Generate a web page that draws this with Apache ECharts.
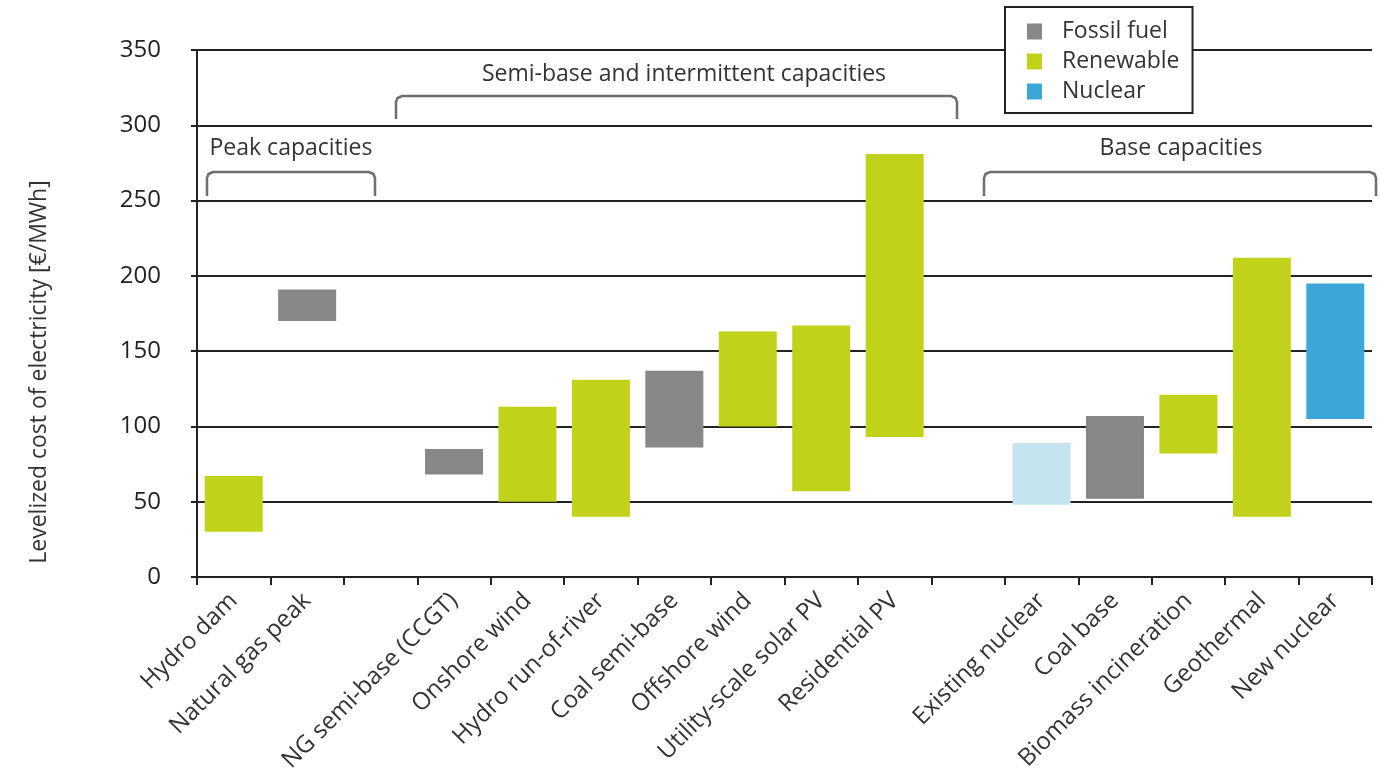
<!DOCTYPE html>
<html>
<head>
<meta charset="utf-8">
<script src="https://cdn.jsdelivr.net/npm/echarts@6/dist/echarts.min.js"></script>
<style>html,body{margin:0;padding:0;background:#fff}#c{width:1381px;height:777px}</style>
</head>
<body>
<div id="c"></div>
<script>
const categories = ['Hydro dam','Natural gas peak','','NG semi-base (CCGT)','Onshore wind','Hydro run-of-river','Coal semi-base','Offshore wind','Utility-scale solar PV','Residential PV','','Existing nuclear','Coal base','Biomass incineration','Geothermal','New nuclear'];
const lowValues  = [30, 170, null, 68, 50, 40, 86, 100, 57, 93, null, 48, 52, 82, 40, 105];
const highValues = [67, 191, null, 85, 113, 131, 137, 163, 167, 281, null, 89, 107, 121, 212, 195];
const sourceType = ['Renewable','Fossil fuel','','Fossil fuel','Renewable','Renewable','Fossil fuel','Renewable','Renewable','Renewable','','Nuclear','Fossil fuel','Renewable','Renewable','Nuclear'];
const existingFlag = [0,0,0,0,0,0,0,0,0,0,0,1,0,0,0,0];
const legendNames = ['Fossil fuel','Renewable','Nuclear'];
const yTicks = {min: 0, max: 350, interval: 50};

const colors = {'Fossil fuel':'#878787','Renewable':'#c0d31a','Nuclear':'#3ba7d8'};
const existingColor = '#c6e4f0';
const FONT = 'Open Sans';

const baseSeries = {
  name: 'base', type: 'bar', stack: 'r', barWidth: 58, silent: true,
  itemStyle: {color: 'transparent'},
  data: lowValues.map(v => v === null ? '-' : v)
};
const rangeSeries = legendNames.map(n => ({
  name: n, type: 'bar', stack: 'r', barWidth: 58,
  itemStyle: {color: colors[n]},
  data: categories.map((c, i) => {
    if (sourceType[i] !== n) return '-';
    const v = highValues[i] - lowValues[i];
    return existingFlag[i] ? {value: v, itemStyle: {color: existingColor}} : v;
  })
}));

const chart = echarts.init(document.getElementById('c'), null, {renderer: 'canvas'});

function bracket(x1, x2, yt, yb) {
  const r = 6;
  return {
    type: 'polyline', z: 10,
    shape: {points: [[x1, yb], [x1, yt + r], [x1 + 1.5, yt + 2], [x1 + r, yt], [x2 - r, yt], [x2 - 1.5, yt + 2], [x2, yt + r], [x2, yb]]},
    style: {stroke: '#6e6e6e', lineWidth: 2.5, fill: null}
  };
}
function label(text, x, y) {
  return {type: 'text', z: 10, x: x, y: y,
    style: {text: text, fill: '#333', font: '23px "' + FONT + '"', align: 'center', verticalAlign: 'middle'}};
}

chart.setOption({
  animation: false,
  backgroundColor: '#fff',
  textStyle: {fontFamily: FONT},
  grid: {left: 197, right: 9, top: 50, bottom: 200, containLabel: false, outerBoundsMode: 'none'},
  legend: {
    data: legendNames, orient: 'vertical', left: 1005, top: 7,
    padding: [13, 13, 10, 22], itemGap: 7, itemWidth: 15, itemHeight: 16,
    borderColor: '#222', borderWidth: 2, backgroundColor: '#fff', z: 20,
    icon: 'rect',
    textStyle: {fontSize: 23, color: '#333', fontFamily: FONT, padding: [0, 0, 0, 15]}
  },
  xAxis: {
    type: 'category', data: categories, boundaryGap: true,
    axisLine: {lineStyle: {color: '#222', width: 2}},
    axisTick: {show: true, length: 8, lineStyle: {color: '#222', width: 2}, interval: 0},
    axisLabel: {rotate: 45, interval: 0, fontSize: 24, color: '#333', fontFamily: FONT, margin: 20, padding: [36, 0, 0, 0], hideOverlap: false},
    splitLine: {show: false}
  },
  yAxis: {
    type: 'value', min: yTicks.min, max: yTicks.max, interval: yTicks.interval,
    name: 'Levelized cost of electricity [€/MWh]', nameLocation: 'middle', nameGap: 146,
    nameTextStyle: {fontSize: 23, color: '#333', fontFamily: FONT, padding: [0, 117, 0, 0]},
    axisLine: {show: true, lineStyle: {color: '#222', width: 2}},
    axisTick: {show: true, length: 6, lineStyle: {color: '#222', width: 2}},
    axisLabel: {fontSize: 24, color: '#222', fontFamily: FONT, margin: 36},
    splitLine: {show: true, lineStyle: {color: '#222', width: 2}}
  },
  graphic: [
    bracket(207, 375, 172, 196), label('Peak capacities', 291, 148),
    bracket(396, 957, 96, 119), label('Semi-base and intermittent capacities', 684, 74),
    bracket(984, 1376, 172, 196), label('Base capacities', 1181, 148)
  ],
  series: [baseSeries].concat(rangeSeries)
});
</script>
</body>
</html>
